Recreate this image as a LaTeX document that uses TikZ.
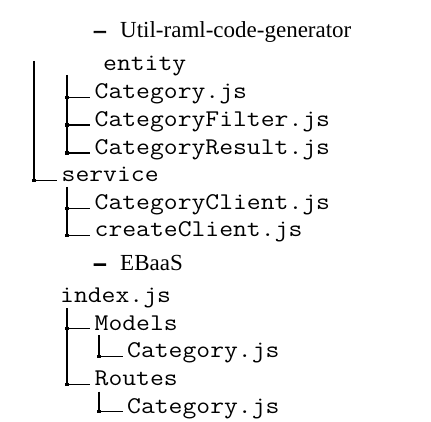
\documentclass[tikz,border=0pt]{standalone}
\usepackage{fontspec}
\setmainfont{Liberation Serif}
\newfontfamily\monof[FakeStretch=1.12]{Latin Modern Mono}
\newfontfamily\dashf[FakeBold=3]{Liberation Serif}
\usetikzlibrary{calc}
\tikzset{
  mono/.style={font=\monof\fontsize{24}{24}\selectfont, inner sep=0pt, anchor=base west, text=black},
  serifn/.style={font=\fontsize{23}{23}\selectfont, inner sep=0pt, anchor=base west, text=black},
  dashn/.style={font=\dashf\bfseries\fontsize{23}{23}\selectfont, inner sep=0pt, anchor=base west, text=black},
  tree/.style={line width=1.1pt, black},
  sq/.style={fill=black, draw=none, minimum size=3.2pt, inner sep=0pt, shape=rectangle},
}
\begin{document}
\begin{tikzpicture}[x=1pt,y=1pt]
\useasboundingbox (0,0) rectangle (431,-422);
% headings
\node[dashn] (d1) at (94,-37.3) {–};
\node[serifn] (title) at (120,-37.3) {Util-raml-code-generator};
\node[dashn] (d2) at (94,-270) {–};
\node[serifn] (ebaas) at (120,-270) {EBaaS};
% files
\node[mono] (entity) at (103,-71) {entity};
\node[mono] (cat1) at (94.5,-99) {Category.js};
\node[mono] (filter) at (94.5,-126.5) {CategoryFilter.js};
\node[mono] (result) at (94.5,-154.5) {CategoryResult.js};
\node[mono] (service) at (61.5,-182) {service};
\node[mono] (client) at (94.5,-210) {CategoryClient.js};
\node[mono] (create) at (94.5,-236.7) {createClient.js};
\node[mono] (index) at (60,-302.7) {index.js};
\node[mono] (models) at (94.5,-330) {Models};
\node[mono] (cat2) at (127,-357.7) {Category.js};
\node[mono] (routes) at (94.5,-385.7) {Routes};
\node[mono] (cat3) at (127,-413.3) {Category.js};
% branch end points
\foreach \n in {service,cat1,filter,result,client,create,models,routes,cat2,cat3}
  \coordinate (\n-e) at ($(\n.base west)+(-4.5,1.5)$);
% vertical tops
\coordinate (v0) at (34,-61);
\coordinate (v1) at (67,-75);
\coordinate (v2) at (67,-187);
\coordinate (v3) at (67,-308);
\coordinate (v4) at (99,-335);
\coordinate (v5) at (99,-391.5);
% trees
\draw[tree] (v0) |- (service-e);
\node[sq] at (v0 |- service-e) {};
\draw[tree] (v1) |- (result-e);
\foreach \n in {cat1,filter,result}{
  \draw[tree] (v1 |- \n-e) -- (\n-e);
  \node[sq] at (v1 |- \n-e) {};
}
\draw[tree] (v2) |- (create-e);
\foreach \n in {client,create}{
  \draw[tree] (v2 |- \n-e) -- (\n-e);
  \node[sq] at (v2 |- \n-e) {};
}
\draw[tree] (v3) |- (routes-e);
\foreach \n in {models,routes}{
  \draw[tree] (v3 |- \n-e) -- (\n-e);
  \node[sq] at (v3 |- \n-e) {};
}
\draw[tree] (v4) |- (cat2-e);
\node[sq] at (v4 |- cat2-e) {};
\draw[tree] (v5) |- (cat3-e);
\node[sq] at (v5 |- cat3-e) {};
\end{tikzpicture}
\end{document}
